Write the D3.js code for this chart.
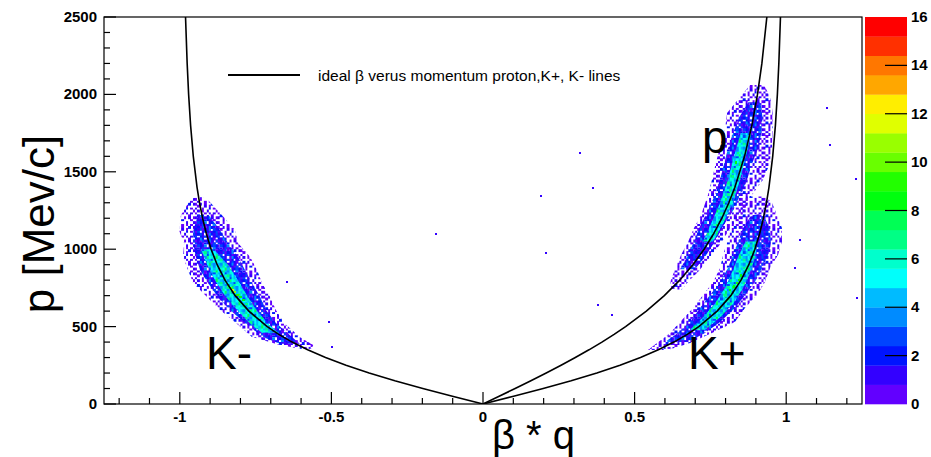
<!DOCTYPE html>
<html><head><meta charset="utf-8">
<script src="https://cdn.jsdelivr.net/npm/d3@7"></script>
<style>body{margin:0;background:#fff}svg{display:block}text{font-family:"Liberation Sans",Arial,Helvetica,sans-serif}</style>
</head><body>
<svg id="c" width="931" height="457"></svg>
<script>
// ---------- data ----------
const xTickValues = [-1, -0.5, 0, 0.5, 1];
const xTickLabels = ["-1", "-0.5", "0", "0.5", "1"];
const yTickValues = [0, 500, 1000, 1500, 2000, 2500];
const zTickValues = [0, 2, 4, 6, 8, 10, 12, 14, 16];

// ideal beta vs momentum lines
const curveP = [0,50,100,150,200,250,300,350,400,450,500,600,700,800,900,1000,1100,1200,1300,1400,1600,1800,2000,2200,2500];
const kaonBeta = [0,0.1008,0.1985,0.2907,0.3755,0.4518,0.5193,0.5783,0.6295,0.6737,0.7116,0.7722,0.8172,0.8510,0.8768,0.8967,0.9123,0.9248,0.9349,0.9431,0.9555,0.9644,0.9709,0.9757,0.9811];
const protonBeta = [0,0.0532,0.1060,0.1579,0.2085,0.2575,0.3045,0.3495,0.3922,0.4324,0.4703,0.5387,0.5980,0.6488,0.6922,0.7293,0.7608,0.7878,0.8108,0.8307,0.8626,0.8868,0.9053,0.9198,0.9362];

// populated regions of the 2D histogram: [p, beta left, beta right]
const kMinusOuter = [[355,-0.600,-0.565],[381,-0.670,-0.560],[433,-0.762,-0.604],[523,-0.815,-0.656],[607,-0.867,-0.683],[691,-0.910,-0.702],[782,-0.956,-0.729],[866,-0.973,-0.745],[950,-0.989,-0.768],[1040,-0.986,-0.808],[1124,-1.003,-0.818],[1221,-0.996,-0.861],[1318,-0.966,-0.907],[1335,-0.950,-0.925]];
const kMinusMid = [[390,-0.670,-0.604],[433,-0.726,-0.630],[523,-0.785,-0.683],[607,-0.834,-0.716],[691,-0.874,-0.735],[782,-0.907,-0.762],[866,-0.933,-0.785],[950,-0.947,-0.808],[1040,-0.956,-0.841],[1124,-0.955,-0.868],[1221,-0.940,-0.905]];
const kMinusCore = [[460,-0.729,-0.676],[520,-0.768,-0.709],[600,-0.808,-0.745],[700,-0.851,-0.778],[800,-0.884,-0.808],[900,-0.910,-0.841],[1000,-0.930,-0.888]];

const kPlusOuter = [[349,0.544,0.610],[394,0.574,0.683],[459,0.617,0.755],[530,0.650,0.831],[620,0.693,0.864],[704,0.726,0.904],[788,0.759,0.930],[878,0.782,0.947],[962,0.792,0.973],[1047,0.805,0.986],[1137,0.815,0.986],[1221,0.838,0.970],[1300,0.848,0.953],[1340,0.870,0.930]];
const kPlusMid = [[400,0.600,0.676],[459,0.643,0.732],[530,0.683,0.782],[620,0.716,0.831],[704,0.749,0.864],[788,0.782,0.897],[878,0.808,0.920],[962,0.825,0.940],[1047,0.841,0.950],[1137,0.858,0.945],[1221,0.885,0.925]];
const kPlusCore = [[480,0.683,0.732],[560,0.726,0.782],[650,0.765,0.825],[750,0.798,0.858],[850,0.821,0.881],[950,0.841,0.897],[1050,0.866,0.905]];

const protonOuter = [[740,0.623,0.656],[788,0.617,0.676],[853,0.630,0.709],[962,0.653,0.755],[1047,0.676,0.788],[1137,0.696,0.815],[1221,0.719,0.854],[1350,0.742,0.887],[1447,0.755,0.923],[1557,0.768,0.947],[1660,0.782,0.953],[1770,0.798,0.956],[1880,0.805,0.956],[1983,0.848,0.947],[2060,0.881,0.927]];
const protonMid = [[870,0.650,0.699],[950,0.673,0.732],[1050,0.696,0.765],[1150,0.716,0.792],[1250,0.742,0.825],[1350,0.765,0.848],[1450,0.782,0.871],[1550,0.795,0.887],[1650,0.808,0.907],[1750,0.825,0.918],[1850,0.845,0.922],[1950,0.875,0.915]];
const protonCore = [[1050,0.726,0.759],[1150,0.749,0.788],[1300,0.782,0.825],[1450,0.808,0.848],[1600,0.828,0.867],[1750,0.850,0.885]];

// highest-count bins: [beta, p, counts]
const hotBins = [[-0.825,736,12],[-0.832,750,10],[-0.818,722,11],[-0.840,768,9],[-0.810,706,9],[-0.800,690,8],[-0.850,800,8],[-0.790,672,8],[-0.780,645,7],[-0.865,840,7],
  [0.838,782,9],[0.845,800,8],[0.828,760,8],[0.852,830,8],[0.815,735,8],[0.862,880,7],[0.800,700,7],
  [0.835,1560,8],[0.842,1620,7],[0.815,1380,7],[0.795,1300,7],[0.825,1470,7]];
// isolated single-count bins
const strayBins = [[-0.155,1098],[-0.646,788],[-0.508,530],[-0.498,368],[0.320,1621],[0.363,1395],[0.191,1344],[0.208,975],[0.379,640],[0.425,575],[1.135,1912],[1.144,1673],[1.230,1453],[1.045,1059],[1.029,879],[1.233,685]];

// ---------- drawing ----------
const L = 104, R = 862, T = 17, B = 404;
const svg = d3.select("#c");
const x = d3.scaleLinear().domain([-1.25, 1.25]).range([L, R]);
const y = d3.scaleLinear().domain([0, 2500]).range([B, T]);
const z = d3.scaleLinear().domain([0, 16]).range([B, T]);
const binW = 0.0075, binH = 15;
const cw = x(binW) - x(0), ch = y(0) - y(binH);

// ROOT palette (20 contour colours, violet -> red)
const pal = ["#6200ff","#3300ff","#0014ff","#0044ff","#008bff","#00bbff","#00fffb","#00ffcc","#00ff85","#00ff55",
             "#00ff0e","#22ff00","#69ff00","#99ff00","#e0ff00","#ffee00","#ffa700","#ff7700","#ff3000","#ff0000"];
const colorFor = c => pal[Math.max(0, Math.min(19, Math.floor(c / 0.8)))];

const defs = svg.append("defs");
defs.append("clipPath").attr("id","plotclip").append("rect").attr("x",L).attr("y",T).attr("width",R-L).attr("height",B-T);

function makePattern(id, rows) {
  const pat = defs.append("pattern").attr("id", id).attr("patternUnits","userSpaceOnUse")
    .attr("x", L).attr("y", T).attr("width", rows[0].length*cw).attr("height", rows.length*ch);
  rows.forEach((r,i)=>[...r].forEach((c,j)=>{
    if (c !== ".") pat.append("rect").attr("x", j*cw).attr("y", i*ch).attr("width", cw+0.15).attr("height", ch+0.15)
      .attr("shape-rendering","crispEdges").attr("fill", pal[parseInt(c,36)]);
  }));
}
makePattern("pOuter", [
  "0.1.0..2.1",
  ".0..1.0...",
  "1..0..2.0.",
  ".1.0.1...0",
  "0...0.1.1.",
  ".2.1...0..",
  "1.0..0.1.0",
  "..1.2...0.",
  "0.0...1..1",
  ".1..0.0.0."]);
makePattern("pMid", [
  "1203.1421.",
  "2130214.31",
  "03.1320123",
  "1231.04213",
  "3.21302.12",
  "2142.1320.",
  "01.31241.3",
  "3120.2103.",
  ".3214.1232",
  "2.13021.41"]);
makePattern("pCore", [
  "5463576437",
  "6357846565",
  "4675737568",
  "7546486759",
  "5847655376",
  "6754375867",
  "5475869546",
  "7586475746",
  "5769583657",
  "6485467579"]);

const plot = svg.append("g").attr("clip-path","url(#plotclip)");
const area = d3.area().y(d => y(d[0])).x0(d => x(d[1])).x1(d => x(d[2])).curve(d3.curveLinear);
[[kMinusOuter,kMinusMid,kMinusCore],[kPlusOuter,kPlusMid,kPlusCore],[protonOuter,protonMid,protonCore]].forEach(([o,m,c]) => {
  plot.append("path").datum(o).attr("d", area).attr("fill","url(#pOuter)");
  plot.append("path").datum(m).attr("d", area).attr("fill","url(#pMid)");
  plot.append("path").datum(c).attr("d", area).attr("fill","url(#pCore)");
});
plot.selectAll("rect.hot").data(hotBins).join("rect").attr("class","hot")
  .attr("x", d => x(d[0]) - cw/2).attr("y", d => y(d[1]) - ch/2).attr("width", cw).attr("height", ch)
  .attr("shape-rendering","crispEdges").attr("fill", d => colorFor(d[2]));
plot.selectAll("rect.stray").data(strayBins).join("rect").attr("class","stray")
  .attr("x", d => x(d[0]) - cw/2).attr("y", d => y(d[1]) - ch/2).attr("width", cw).attr("height", ch)
  .attr("shape-rendering","crispEdges").attr("fill", pal[1]);

// ideal lines
const line = d3.line().x(d => x(d[0])).y(d => y(d[1]));
const kPlusLine = curveP.map((p,i) => [kaonBeta[i], p]);
const kMinusLine = curveP.map((p,i) => [-kaonBeta[i], p]);
const protonLine = curveP.map((p,i) => [protonBeta[i], p]);
[kMinusLine, kPlusLine, protonLine].forEach(d =>
  plot.append("path").datum(d).attr("d", line).attr("fill","none").attr("stroke","#000").attr("stroke-width",1.6));

// frame
svg.append("rect").attr("x",L).attr("y",T).attr("width",R-L).attr("height",B-T).attr("fill","none").attr("stroke","#000").attr("stroke-width",1.2);

// axis ticks
const ax = svg.append("g").attr("stroke","#000").attr("stroke-width",1.2);
x.ticks(25).forEach(v => {
  const major = xTickValues.some(t => Math.abs(t - v) < 1e-6);
  ax.append("line").attr("x1", x(v)).attr("x2", x(v)).attr("y1", B).attr("y2", B - (major ? 12 : 6));
});
y.ticks(25).forEach(v => {
  const major = yTickValues.some(t => Math.abs(t - v) < 1e-6);
  ax.append("line").attr("x1", L).attr("x2", L + (major ? 12 : 6)).attr("y1", y(v)).attr("y2", y(v));
});
svg.selectAll("text.xt").data(xTickValues).join("text").attr("class","xt")
  .attr("x", d => x(d)).attr("y", B + 18).attr("text-anchor","middle")
  .attr("font-size", 15).attr("font-weight","bold").text((d,i) => xTickLabels[i]);
svg.selectAll("text.yt").data(yTickValues).join("text").attr("class","yt")
  .attr("x", L - 7).attr("y", d => y(d) + 5).attr("text-anchor","end")
  .attr("font-size", 15).attr("font-weight","bold").text(d => d);

// axis titles
svg.append("text").attr("x", 492).attr("y", 449).attr("font-size", 40).text("β * q");
svg.append("text").attr("transform", "translate(54,224) rotate(-90)").attr("text-anchor","middle")
  .attr("font-size", 44).text("p [Mev/c]");

// color bar
const CB0 = 865, CB1 = 907;
svg.selectAll("rect.cb").data(pal).join("rect").attr("class","cb")
  .attr("x", CB0).attr("width", CB1 - CB0)
  .attr("y", (d,i) => z((i+1)*0.8)).attr("height", (d,i) => z(i*0.8) - z((i+1)*0.8) + 0.3)
  .attr("fill", d => d);
zTickValues.filter(v => v > 0 && v < 16).forEach(v =>
  svg.append("line").attr("x1", CB1 - 22).attr("x2", CB1).attr("y1", z(v)).attr("y2", z(v)).attr("stroke","#000").attr("stroke-width",1.2));
svg.selectAll("text.zt").data(zTickValues).join("text").attr("class","zt")
  .attr("x", 911).attr("y", d => z(d) + 5).attr("font-size", 15).attr("font-weight","bold").text(d => d);

// legend
svg.append("line").attr("x1", 228).attr("x2", 300).attr("y1", 75).attr("y2", 75).attr("stroke","#000").attr("stroke-width",2);
svg.append("text").attr("x", 318).attr("y", 81).attr("font-size", 15.5).text("ideal β verus momentum proton,K+, K- lines");

// particle labels
svg.append("text").attr("x", 702).attr("y", 153).attr("font-size", 46).text("p");
svg.append("text").attr("x", 206).attr("y", 369).attr("font-size", 46).text("K-");
svg.append("text").attr("x", 688).attr("y", 369).attr("font-size", 46).text("K+");
</script>
</body></html>
